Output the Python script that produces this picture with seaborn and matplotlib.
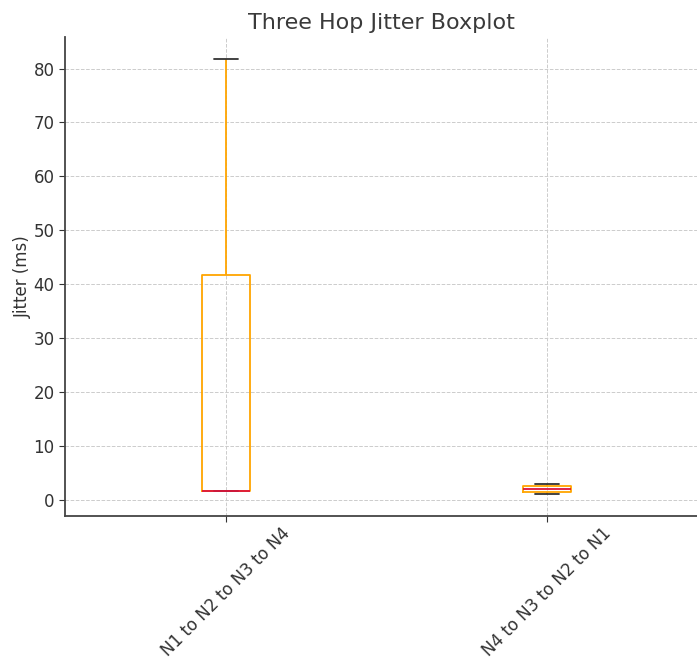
import matplotlib
matplotlib.use("Agg")
import matplotlib.pyplot as plt
import seaborn as sns
import pandas as pd

# Jitter samples (ms) per route
routes = ["N1 to N2 to N3 to N4", "N4 to N3 to N2 to N1"]
jitter_forward = [1.7, 1.7, 1.7, 41.8, 81.8]
jitter_reverse = [1.1, 1.5, 2.0, 2.65, 3.0]

df = pd.DataFrame({
    "route": [routes[0]] * len(jitter_forward) + [routes[1]] * len(jitter_reverse),
    "jitter": jitter_forward + jitter_reverse,
})

sns.set_style("white")
plt.rcParams["font.family"] = ["DejaVu Sans"]

fig = plt.figure(figsize=(6.97, 6.58), dpi=100)
ax = fig.add_axes([0.0933, 0.2158, 0.9067, 0.728])

sns.boxplot(
    data=df, x="route", y="jitter", order=routes, ax=ax,
    width=0.15, fill=False, linewidth=1.3,
    boxprops=dict(color="#FFA500"),
    whiskerprops=dict(color="#FFA500"),
    capprops=dict(color="#333333"),
    medianprops=dict(color="#DC143C"),
    showfliers=False,
)

ax.set_xlim(-0.5, 1.466)
ax.set_ylim(-2.95, 85.85)
ax.set_yticks(range(0, 81, 10))
ax.set_title("Three Hop Jitter Boxplot", fontsize=16, color="#3a3a3a")
ax.set_xlabel("")
ax.set_ylabel("Jitter (ms)", fontsize=12, color="#333333", labelpad=1)
ax.tick_params(axis="x", labelrotation=45, labelsize=12, colors="#333333", length=4, direction="out", bottom=True, pad=2)
ax.tick_params(axis="y", labelsize=12, colors="#333333", length=4, direction="out", left=True)
for lab in ax.get_xticklabels():
    lab.set_ha("center")

ax.grid(True, linestyle="--", linewidth=0.7, color="#cccccc")
ax.set_axisbelow(True)
for side in ["top", "right"]:
    ax.spines[side].set_visible(False)
for side in ["left", "bottom"]:
    ax.spines[side].set_color("#444444")
    ax.spines[side].set_linewidth(1.3)

fig.savefig("out.png", dpi=100)
